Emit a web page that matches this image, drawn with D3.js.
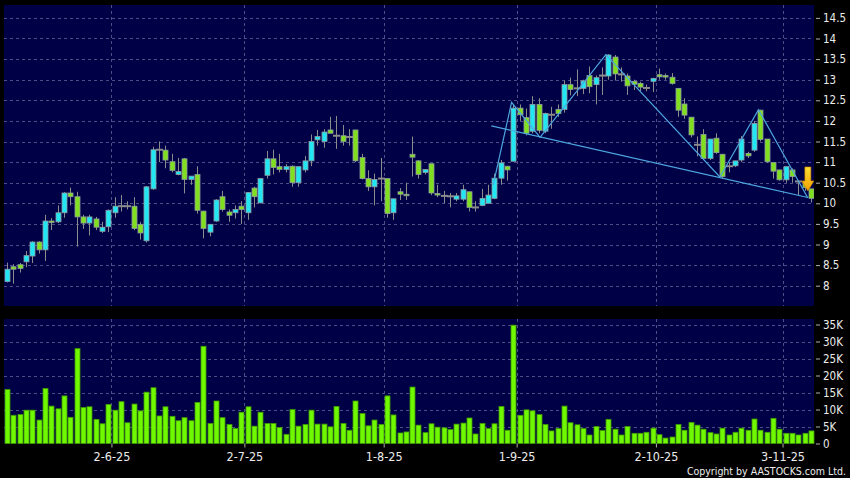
<!DOCTYPE html>
<html><head><meta charset="utf-8">
<script src="https://cdn.jsdelivr.net/npm/d3@7"></script>
<style>html,body{margin:0;padding:0;background:#000;}svg{display:block;}</style>
</head><body>
<svg id="c" width="850" height="478"></svg>
<script>
// ---------- data ----------
const openP  = [8.10,8.46,8.51,8.58,8.72,9.06,8.87,9.57,9.55,9.77,10.25,10.16,9.67,9.52,9.62,9.32,9.43,9.77,9.93,9.93,9.93,9.49,9.09,10.35,11.30,11.29,11.01,10.70,11.08,10.58,10.70,9.81,9.30,9.57,10.16,9.79,9.77,9.93,9.77,10.37,10.01,10.68,11.08,10.89,10.82,10.90,10.50,10.81,11.03,11.54,11.50,11.78,11.64,11.64,11.61,11.78,11.11,10.60,10.40,10.60,10.60,9.77,10.28,10.22,11.19,11.03,10.75,10.96,10.24,10.18,10.17,10.10,10.10,10.28,9.90,9.95,10.00,10.12,10.61,10.90,11.02,12.31,12.08,11.75,12.40,11.75,12.15,12.28,12.28,12.88,12.79,12.79,13.10,12.88,13.10,13.09,13.55,13.13,13.09,12.96,12.91,12.80,12.96,13.12,13.10,13.06,12.79,12.41,12.09,11.42,11.67,11.09,11.58,11.19,10.90,10.91,11.05,11.21,11.29,12.26,11.56,10.99,10.81,10.57,10.81,10.53,10.50,10.35];
const highP  = [8.56,8.52,8.55,8.84,9.08,9.08,9.72,9.64,9.95,10.27,10.38,10.28,9.72,9.72,9.67,9.55,9.85,10.15,10.20,10.05,10.15,9.55,10.42,11.37,11.50,11.40,11.20,11.10,11.10,10.66,10.90,9.82,9.49,10.10,10.30,9.85,9.95,10.05,10.27,10.40,10.60,11.27,11.30,11.20,10.95,10.92,10.89,11.15,11.67,11.78,11.80,12.10,12.12,11.90,11.80,11.78,11.20,10.80,10.72,11.10,10.60,10.11,10.37,10.50,11.62,11.05,10.82,10.96,10.45,10.30,10.25,10.25,10.45,10.28,10.05,10.35,10.45,10.72,11.05,10.90,12.40,12.40,12.30,12.60,12.55,12.20,12.34,12.40,12.98,13.05,13.25,13.00,13.32,13.10,13.30,13.62,13.60,13.30,13.15,13.00,12.95,12.88,13.05,13.27,13.15,13.16,12.79,12.55,12.09,11.62,11.80,11.56,11.70,11.20,11.00,11.03,11.63,11.25,12.00,12.27,11.56,10.99,10.81,10.89,10.85,10.55,10.55,10.35];
const lowP   = [8.08,8.05,8.32,8.45,8.55,8.78,8.60,9.35,9.52,9.65,9.95,8.95,9.38,9.22,9.35,9.28,9.30,9.65,9.80,9.85,9.35,9.12,9.05,10.33,11.00,10.85,10.75,10.68,10.24,10.45,9.75,9.15,9.20,9.55,9.80,9.55,9.63,9.50,9.60,9.90,10.00,10.60,10.70,10.75,10.75,10.40,10.40,10.75,10.90,11.40,11.35,11.70,11.32,11.40,11.40,11.00,10.58,10.30,9.95,10.05,9.65,9.60,10.08,10.08,10.65,10.60,10.70,10.20,10.15,10.00,9.90,10.05,10.05,9.80,9.80,9.93,10.00,10.10,10.45,10.55,11.02,12.00,11.65,11.70,11.70,11.70,11.81,12.10,12.20,12.62,12.60,12.65,12.67,12.40,12.63,13.00,12.98,12.95,12.63,12.75,12.72,12.72,12.70,13.00,13.00,12.88,12.10,12.05,11.60,11.14,11.05,11.05,11.20,10.60,10.75,10.88,11.00,11.10,11.25,11.50,10.98,10.60,10.55,10.50,10.50,10.20,10.30,10.02];
const closeP = [8.40,8.40,8.42,8.73,9.06,8.87,9.57,9.53,9.77,10.25,10.16,9.67,9.52,9.67,9.42,9.42,9.83,9.93,9.93,9.93,9.39,9.28,10.40,11.30,11.30,11.05,10.80,10.77,10.58,10.66,9.83,9.39,9.49,10.08,9.85,9.71,9.85,9.85,10.26,10.16,10.60,11.08,10.87,10.82,10.89,10.50,10.89,11.03,11.50,11.62,11.73,11.70,11.64,11.50,11.61,11.03,10.60,10.40,10.58,10.60,9.75,10.11,10.22,10.20,11.12,10.70,10.82,10.25,10.20,10.18,10.17,10.18,10.33,9.90,9.90,10.12,10.20,10.61,10.98,10.81,12.31,12.15,11.70,12.40,11.77,12.18,12.15,12.18,12.88,12.76,12.79,12.97,12.83,13.05,13.10,13.60,13.14,13.13,12.85,12.89,12.82,12.80,13.03,13.07,13.07,12.91,12.26,12.14,11.66,11.42,11.09,11.56,11.23,10.65,10.90,11.03,11.56,11.15,11.94,11.55,11.01,10.78,10.57,10.89,10.65,10.53,10.38,10.12];
const volumeK = [15.9,8.3,8.5,9.8,9.8,6.9,16.2,11.0,10.2,14.0,7.7,27.9,10.6,10.8,7.1,5.8,11.5,9.8,12.3,6.1,11.6,9.6,15.1,16.4,8.1,10.8,8.0,6.7,7.6,6.7,12.1,28.6,5.9,12.5,7.6,5.6,4.4,9.2,10.8,5.1,9.2,5.9,5.9,4.7,2.7,10.0,5.1,5.6,9.8,5.7,5.7,4.9,10.9,5.9,3.9,12.5,8.8,5.2,6.9,5.6,14.0,8.4,3.1,3.4,16.6,5.4,3.2,5.8,4.8,4.6,4.1,5.7,6.0,7.5,2.8,5.9,4.4,5.8,10.9,3.9,34.8,8.3,9.9,9.6,8.5,5.6,3.7,4.4,11.0,6.1,5.5,4.4,2.5,5.0,3.8,7.1,4.2,2.5,5.0,3.0,3.0,3.3,4.5,2.6,1.6,1.9,5.6,3.9,6.2,5.4,4.2,3.2,2.8,4.5,2.5,3.3,4.5,3.9,7.2,3.9,3.3,7.4,4.2,3.0,3.0,2.5,3.0,3.7];
const priceTicks = [8,8.5,9,9.5,10,10.5,11,11.5,12,12.5,13,13.5,14,14.5];
const volumeTicks = [0,5000,10000,15000,20000,25000,30000,35000];
const dateLabels = ["2-6-25","2-7-25","1-8-25","1-9-25","2-10-25","3-11-25"];
const dateIndex  = [16,37,59,80,102,122];
// annotation lines (candle index, price)
const zigzagIdx   = [76.8,79.7,84.2,94.6,112.6,118.7,126.5];
const zigzagPrice = [10.45,12.45,11.60,13.61,10.64,12.27,10.13];
const supportIdx   = [76.5,126.5];
const supportPrice = [11.88,10.14];
const signalIdx = 126.5, signalPrice = 10.30;

// ---------- layout ----------
const FONT = "'DejaVu Sans Condensed','DejaVu Sans',sans-serif";
const N = openP.length;
const L = 4, R = 814;
const mainTop = 5, mainBot = 306, volTop = 319, volBot = 443.5;
const navy = "#000046", grid = "#4e4e86";
const upCol = "#22e6f2", downCol = "#80e020", wickCol = "#8c8c8c";

const svg = d3.select("#c");
svg.append("rect").attr("width",850).attr("height",478).attr("fill","#000");

const x  = d3.scaleLinear().domain([-0.5, N-0.5]).range([3.8, 814.2]);
const y  = d3.scaleLinear().domain([8, 14.5]).range([285.7, 17.9]);
const yv = d3.scaleLinear().domain([0, 35000]).range([volBot, 324.5]);

svg.append("rect").attr("x",L).attr("y",mainTop).attr("width",R-L).attr("height",mainBot-mainTop).attr("fill",navy);
svg.append("rect").attr("x",L).attr("y",volTop).attr("width",R-L).attr("height",volBot-volTop).attr("fill",navy);

const defs = svg.append("defs");
defs.append("clipPath").attr("id","clipMain").append("rect").attr("x",L).attr("y",mainTop).attr("width",R-L).attr("height",mainBot-mainTop);
const grad = defs.append("linearGradient").attr("id","arrowGrad").attr("x1",0).attr("x2",0).attr("y1",0).attr("y2",1);
grad.append("stop").attr("offset","0%").attr("stop-color","#ffdd33");
grad.append("stop").attr("offset","100%").attr("stop-color","#f0a000");

// ---------- grid ----------
const gGrid = svg.append("g").attr("stroke",grid).attr("stroke-width",1).attr("stroke-dasharray","3,3").attr("shape-rendering","crispEdges");
gGrid.selectAll("line.h").data(priceTicks).join("line")
  .attr("x1",L).attr("x2",R).attr("y1",d=>Math.round(y(d))+0.5).attr("y2",d=>Math.round(y(d))+0.5);
gGrid.selectAll("line.v").data(volumeTicks.filter(d=>d>0)).join("line")
  .attr("x1",L).attr("x2",R).attr("y1",d=>Math.round(yv(d))+0.5).attr("y2",d=>Math.round(yv(d))+0.5);
const gV = svg.append("g").attr("stroke",grid).attr("stroke-dasharray","3,3").attr("shape-rendering","crispEdges");
dateIndex.forEach(d=>{
  const xx = Math.round(x(d+0.5))+0.5;
  gV.append("line").attr("x1",xx).attr("x2",xx).attr("y1",mainTop).attr("y2",mainBot);
  gV.append("line").attr("x1",xx).attr("x2",xx).attr("y1",volTop).attr("y2",volBot);
});

// ---------- candles ----------
const idx = d3.range(N);
const gC = svg.append("g").attr("clip-path","url(#clipMain)");
const cx = i => Math.round(x(i));
gC.append("g").selectAll("line").data(idx).join("line")
  .attr("x1",i=>cx(i)+0.5).attr("x2",i=>cx(i)+0.5)
  .attr("y1",i=>y(highP[i])).attr("y2",i=>y(lowP[i]))
  .attr("stroke",wickCol).attr("stroke-width",1);
const bodies = idx.filter(i=>Math.abs(openP[i]-closeP[i])>0.001);
const dojis  = idx.filter(i=>Math.abs(openP[i]-closeP[i])<=0.001);
gC.append("g").selectAll("rect").data(bodies).join("rect")
  .attr("x",i=>cx(i)-2)
  .attr("y",i=>y(Math.max(openP[i],closeP[i])))
  .attr("width",5)
  .attr("height",i=>Math.max(1.5,Math.abs(y(openP[i])-y(closeP[i]))))
  .attr("fill",i=>closeP[i]>openP[i]?upCol:downCol)
  .attr("stroke","#8e9aa0").attr("stroke-width",0.8);
gC.append("g").selectAll("line").data(dojis).join("line")
  .attr("x1",i=>cx(i)-3).attr("x2",i=>cx(i)+4)
  .attr("y1",i=>y(openP[i])).attr("y2",i=>y(openP[i]))
  .attr("stroke",wickCol).attr("stroke-width",2);

// ---------- annotations ----------
const line = d3.line().x(d=>x(d[0])).y(d=>y(d[1]));
gC.append("path").datum(d3.zip(supportIdx,supportPrice)).attr("d",line)
  .attr("fill","none").attr("stroke","#4da6e0").attr("stroke-width",1.2);
gC.append("path").datum(d3.zip(zigzagIdx,zigzagPrice)).attr("d",line)
  .attr("fill","none").attr("stroke","#4da6e0").attr("stroke-width",1.2);
{
  const ax = x(signalIdx), ay = y(signalPrice);
  const p = d3.path();
  p.moveTo(ax, ay);
  p.lineTo(ax-6, ay-10); p.lineTo(ax-3, ay-10); p.lineTo(ax-3, ay-24);
  p.lineTo(ax+3, ay-24); p.lineTo(ax+3, ay-10); p.lineTo(ax+6, ay-10); p.closePath();
  gC.append("path").attr("d",p.toString()).attr("fill","url(#arrowGrad)").attr("stroke","#c98000").attr("stroke-width",0.6);
}

// ---------- volume ----------
svg.append("g").selectAll("rect").data(idx).join("rect")
  .attr("x",i=>cx(i)-2).attr("width",5)
  .attr("y",i=>yv(volumeK[i]*1000)).attr("height",i=>volBot-yv(volumeK[i]*1000))
  .attr("fill","#70f800").attr("stroke","#3f9a00").attr("stroke-width",0.8);

// ---------- axes ----------
function styleAxis(g, fs){
  g.select(".domain").remove();
  g.selectAll(".tick line").attr("stroke","#b0b0b0");
  g.selectAll(".tick text").attr("fill","#ececec").attr("font-size",fs).attr("font-family",FONT);
}
svg.append("g").attr("transform","translate(816,0)")
  .call(d3.axisRight(y).tickValues(priceTicks).tickSize(4).tickPadding(3).tickFormat(d=>String(d)))
  .call(g=>styleAxis(g,11.5));
svg.append("g").attr("transform","translate(816,0)")
  .call(d3.axisRight(yv).tickValues(volumeTicks).tickSize(4).tickPadding(3).tickFormat(d=>d===0?"0":(d/1000)+"K"))
  .call(g=>styleAxis(g,11.5));
svg.append("g").attr("transform",`translate(0,${volBot})`)
  .call(d3.axisBottom(x).tickValues(dateIndex.map(d=>d+0.5)).tickSize(4).tickPadding(5).tickFormat((d,i)=>dateLabels[i]))
  .call(g=>styleAxis(g,12.5));

svg.append("text").attr("x",846).attr("y",474.5).attr("text-anchor","end")
  .attr("fill","#ececec").attr("font-size",10.5).attr("font-family",FONT)
  .text("Copyright by AASTOCKS.com Ltd.");
</script>
</body></html>
